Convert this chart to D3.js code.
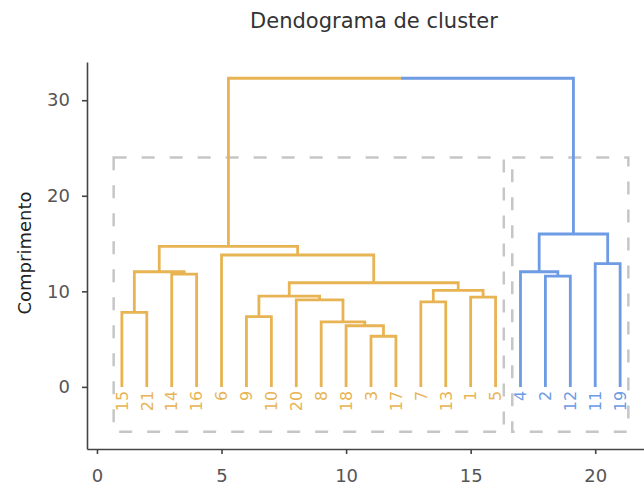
<!DOCTYPE html>
<html>
<head>
<meta charset="utf-8">
<script src="https://cdn.jsdelivr.net/npm/d3@7"></script>
<style>
    body { margin: 0; background: #fff; }
    text { font-family: "DejaVu Sans", sans-serif; }
</style>
</head>
<body>
<div id="chart"></div>
<script>
// leaf labels, left to right as they sit along the x axis
const leafOrder = ["15", "21", "14", "16", "6", "9", "10", "20", "8", "18", "3", "17",
    "7", "13", "1", "5", "4", "2", "12", "11", "19"];

// merges: [left child, right child, height]; merge i becomes node "m" + i
const merges = [
    ["3", "17", 5.3],
    ["18", "m0", 6.4],
    ["8", "m1", 6.8],
    ["9", "10", 7.35],
    ["15", "21", 7.8],
    ["7", "13", 8.9],
    ["20", "m2", 9.1],
    ["1", "5", 9.4],
    ["m3", "m6", 9.5],
    ["m5", "m7", 10.1],
    ["m8", "m9", 10.9],
    ["2", "12", 11.6],
    ["14", "16", 11.8],
    ["m4", "m12", 12.05],
    ["4", "m11", 12.05],
    ["11", "19", 12.9],
    ["6", "m10", 13.8],
    ["m13", "m16", 14.7],
    ["m14", "m15", 16.0],
    ["m17", "m18", 32.3]
];

// clusters cut from the tree
const clusterLeaves = [
    ["15", "21", "14", "16", "6", "9", "10", "20", "8", "18", "3", "17", "7", "13", "1", "5"],
    ["4", "2", "12", "11", "19"]
];
const clusterColors = ["#e8b453", "#6d9be4"];
const boxTop = 24;
const boxBottom = -4.7;

const xTicks = [0, 5, 10, 15, 20];
const yTicks = [0, 10, 20, 30];

const drawDendrogram = id => {
    const width = 644;
    const height = 488;

    const svg = d3.select(id)
        .append("svg")
        .attr("width", width)
        .attr("height", height);

    const x = d3.scaleLinear().domain([-0.4, 22.6]).range([87, 660]);
    const y = d3.scaleLinear().domain([-6.5, 34]).range([449, 62]);

    const clusterIndex = {};
    clusterLeaves.forEach((leaves, i) => leaves.forEach(l => clusterIndex[l] = i));

    // node positions: leaves at 1..n, merges at the mean of their children
    const nodes = {};
    leafOrder.forEach((l, i) => nodes[l] = { pos: i + 1, h: 0, cluster: clusterIndex[l] });
    merges.forEach(([a, b, h], i) => {
        const na = nodes[a];
        const nb = nodes[b];
        nodes["m" + i] = {
            pos: (na.pos + nb.pos) / 2,
            h: h,
            cluster: na.cluster === nb.cluster ? na.cluster : -1
        };
    });

    // dashed cluster boxes
    const pad = 0.33;
    svg.append("g")
        .selectAll("rect")
        .data(clusterLeaves)
        .join("rect")
        .attr("x", d => x(leafOrder.indexOf(d[0]) + 1 - pad))
        .attr("width", d => x(leafOrder.indexOf(d[d.length - 1]) + 1 + pad) - x(leafOrder.indexOf(d[0]) + 1 - pad))
        .attr("y", y(boxTop))
        .attr("height", y(boxBottom) - y(boxTop))
        .attr("fill", "none")
        .attr("stroke", "#c6c6c6")
        .attr("stroke-width", 2.5)
        .attr("stroke-dasharray", "13,15");

    // links
    const links = [];
    merges.forEach(([a, b], i) => {
        const n = nodes["m" + i];
        const na = nodes[a];
        const nb = nodes[b];
        if (n.cluster >= 0) {
            links.push({
                d: `M${x(na.pos)},${y(na.h)}V${y(n.h)}H${x(nb.pos)}V${y(nb.h)}`,
                color: clusterColors[n.cluster]
            });
        } else {
            // link joining the two clusters: each half takes its side's colour
            links.push({
                d: `M${x(na.pos)},${y(na.h)}V${y(n.h)}H${x(n.pos)}`,
                color: clusterColors[na.cluster]
            });
            links.push({
                d: `M${x(n.pos)},${y(n.h)}H${x(nb.pos)}V${y(nb.h)}`,
                color: clusterColors[nb.cluster]
            });
        }
    });

    svg.append("g")
        .selectAll("path")
        .data(links)
        .join("path")
        .attr("d", d => d.d)
        .attr("fill", "none")
        .attr("stroke", d => d.color)
        .attr("stroke-width", 2.8);

    // leaf labels
    svg.append("g")
        .selectAll("text")
        .data(leafOrder)
        .join("text")
        .attr("transform", (d, i) => `translate(${x(i + 1)}, ${y(0) + 4}) rotate(-90)`)
        .attr("dy", "0.36em")
        .attr("text-anchor", "end")
        .attr("font-size", 16)
        .attr("fill", d => clusterColors[clusterIndex[d]])
        .text(d => d);

    // axes
    const xAxis = svg.append("g")
        .attr("transform", `translate(0, ${y.range()[0]})`)
        .call(d3.axisBottom(x).tickValues(xTicks).tickSize(5).tickSizeOuter(0).tickPadding(15));

    const yAxis = svg.append("g")
        .attr("transform", `translate(${x.range()[0]}, 0)`)
        .call(d3.axisLeft(y).tickValues(yTicks).tickSize(5).tickSizeOuter(0).tickPadding(12));

    [xAxis, yAxis].forEach(ax => {
        ax.select(".domain").attr("stroke", "#444").attr("stroke-width", 1.6);
        ax.selectAll(".tick line").attr("stroke", "#444").attr("stroke-width", 1.6);
        ax.selectAll(".tick text")
            .attr("font-family", "DejaVu Sans, sans-serif")
            .attr("font-size", 18)
            .attr("fill", "#555");
    });

    svg.append("text")
        .attr("x", 374)
        .attr("y", 28)
        .attr("text-anchor", "middle")
        .attr("font-size", 21)
        .attr("fill", "#333")
        .text("Dendograma de cluster");

    svg.append("text")
        .attr("transform", "translate(31, 253) rotate(-90)")
        .attr("text-anchor", "middle")
        .attr("font-size", 18)
        .attr("fill", "#222")
        .text("Comprimento");
};

drawDendrogram("#chart");
</script>
</body>
</html>
